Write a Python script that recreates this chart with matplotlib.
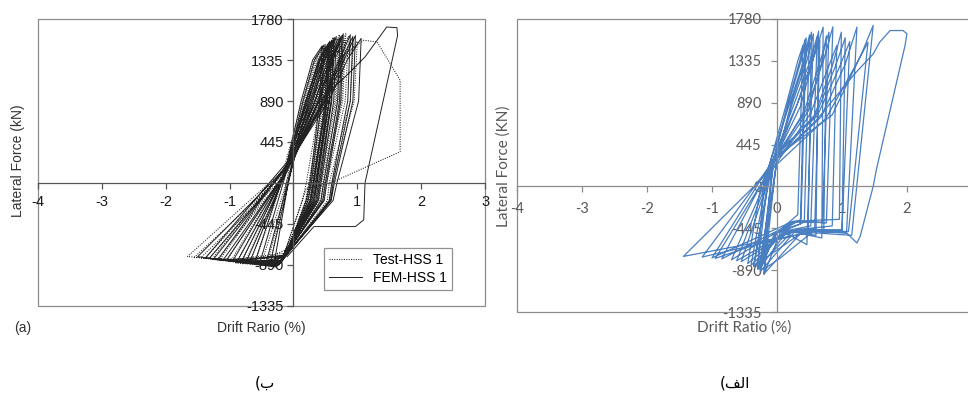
import matplotlib
matplotlib.use("Agg")
import matplotlib.pyplot as plt
from matplotlib.patches import Rectangle

# ---------------- left panel (black) ----------------
# force levels at which the branch x-positions were read
KNEE_F = 890
SH_F = 1335
UNL_HI_F = 890
UNL_F = 0
BEND_F = -190

# Test-HSS 1 (dotted), one entry per cycle
t_conv_x = [-0.18, -0.05, -0.12, 0.02, -0.08, -0.15, 0.00, -0.10, -0.03, -0.20, 0.03, -0.06,
            -0.13, 0.01, -0.07, -0.16, -0.02, 0.04]
t_conv_F = [80, 220, 140, 300, 180, 60, 260, 120, 230, 30, 320, 200,
            110, 280, 190, 70, 240, 330]
t_knee_x = [0.14, 0.22, 0.18, 0.31, 0.26, 0.20, 0.38, 0.30, 0.44, 0.35, 0.52, 0.47,
            0.16, 0.28, 0.24, 0.22, 0.36, 0.42]
t_sh_x = [0.32, 0.40, 0.37, 0.50, 0.47, 0.42, 0.60, 0.55, 0.70, 0.62, 0.80, 0.76,
          0.35, 0.46, 0.44, 0.40, 0.56, 0.65]
t_pos_x = [0.47, 0.55, 0.52, 0.64, 0.60, 0.58, 0.75, 0.70, 0.86, 0.80, 1.00, 0.94,
           0.50, 0.62, 0.57, 0.54, 0.72, 0.82]
t_pos_F = [1470, 1520, 1490, 1560, 1540, 1500, 1600, 1570, 1590, 1550, 1540, 1560,
           1500, 1580, 1530, 1480, 1610, 1620]
t_unl_hi_x = [0.42, 0.50, 0.47, 0.59, 0.55, 0.53, 0.70, 0.65, 0.81, 0.75, 0.95, 0.89,
              0.45, 0.57, 0.52, 0.49, 0.67, 0.77]
t_unl_x = [0.20, 0.30, 0.25, 0.36, 0.32, 0.28, 0.44, 0.40, 0.52, 0.47, 0.60, 0.56,
           0.24, 0.35, 0.30, 0.27, 0.42, 0.49]
t_bend_x = [0.14, 0.25, 0.20, 0.32, 0.28, 0.22, 0.40, 0.36, 0.48, 0.43, 0.56, 0.53,
            0.19, 0.31, 0.26, 0.22, 0.38, 0.45]
t_bot_x = [-0.15, -0.22, -0.10, -0.25, -0.18, -0.12, -0.28, -0.20, -0.24, -0.16, -0.26, -0.21,
           -0.12, -0.24, -0.18, -0.14, -0.22, -0.27]
t_bot_F = [-780, -860, -720, -900, -840, -760, -910, -850, -880, -800, -900, -870,
           -790, -890, -850, -800, -870, -910]
t_neg_x = [-0.35, -0.60, -0.48, -0.90, -0.75, -1.05, -1.20, -1.32, -1.45, -1.15, -1.66, -1.55,
           -0.40, -0.82, -0.68, -0.98, -1.28, -1.38]
t_neg_F = [-840, -860, -830, -870, -850, -840, -835, -820, -810, -830, -798, -805,
           -850, -865, -855, -845, -830, -815]
# last large test cycle
t_last_x = [0.00, 0.45, 0.80, 1.10, 1.31, 1.67, 1.67, 0.58, 0.20, -0.20]
t_last_F = [250, 890, 1400, 1549, 1531, 1115, 339, 0, -60, -880]

# FEM-HSS 1 (solid)
f_conv_x = [-0.14, -0.02, -0.09, 0.04, -0.06, -0.16, 0.01, -0.11, -0.04, 0.05, -0.08,
            -0.12, 0.02, -0.05, -0.18, 0.00, 0.06]
f_conv_F = [100, 250, 170, 330, 210, 50, 280, 130, 240, 350, 190,
            120, 300, 220, 40, 270, 360]
f_knee_x = [0.12, 0.24, 0.20, 0.34, 0.28, 0.22, 0.40, 0.33, 0.46, 0.55, 0.50,
            0.15, 0.30, 0.26, 0.19, 0.38, 0.48]
f_sh_x = [0.30, 0.42, 0.39, 0.53, 0.49, 0.45, 0.62, 0.58, 0.72, 0.84, 0.79,
          0.33, 0.49, 0.46, 0.41, 0.60, 0.75]
f_pos_x = [0.45, 0.57, 0.54, 0.67, 0.63, 0.60, 0.78, 0.73, 0.89, 1.06, 0.97,
           0.48, 0.64, 0.60, 0.56, 0.76, 0.93]
f_pos_F = [1490, 1540, 1510, 1590, 1560, 1520, 1620, 1580, 1610, 1570, 1600,
           1500, 1580, 1550, 1500, 1600, 1590]
f_unl_hi_x = [0.41, 0.53, 0.50, 0.63, 0.59, 0.56, 0.74, 0.69, 0.85, 1.02, 0.93,
              0.44, 0.60, 0.56, 0.52, 0.72, 0.89]
f_unl_x = [0.26, 0.36, 0.31, 0.43, 0.39, 0.34, 0.52, 0.47, 0.60, 0.68, 0.64,
           0.28, 0.41, 0.37, 0.32, 0.50, 0.62]
f_bend_x = [0.20, 0.31, 0.26, 0.39, 0.35, 0.29, 0.48, 0.43, 0.56, 0.62, 0.59,
            0.23, 0.37, 0.33, 0.27, 0.46, 0.58]
f_bot_x = [-0.10, -0.18, -0.14, -0.22, -0.20, -0.12, -0.26, -0.19, -0.23, -0.28, -0.21,
           -0.11, -0.21, -0.17, -0.13, -0.24, -0.26]
f_bot_F = [-760, -840, -800, -880, -850, -780, -900, -860, -890, -910, -870,
           -780, -870, -840, -790, -890, -900]
f_neg_x = [-0.30, -0.52, -0.42, -0.82, -0.68, -0.95, -1.10, -1.25, -1.38, -1.50, -1.05,
           -0.36, -0.74, -0.60, -0.88, -1.18, -1.32]
f_neg_F = [-860, -850, -840, -860, -850, -845, -835, -825, -815, -800, -840,
           -855, -855, -850, -850, -830, -820]
# last large FEM cycle
f_last_x = [0.00, 0.40, 0.85, 1.12, 1.31, 1.46, 1.62, 1.63, 1.12, 1.10, 0.97, 0.32, -0.10]
f_last_F = [250, 890, 1180, 1368, 1549, 1693, 1686, 1600, 0, -400, -473, -473, -800]

# ---------------- right panel (blue) ----------------
b_conv_x = [-0.15, -0.05, -0.20, 0.00, -0.10, -0.25, -0.02, -0.12, 0.02, -0.30, -0.05, 0.03, -0.08, 0.00, -0.18,
            -0.08, 0.01, -0.14, -0.03, 0.02]
b_conv_F = [150, 280, 60, 330, 200, 0, 300, 180, 360, -50, 260, 380, 240, 320, 120,
            220, 320, 140, 280, 350]
b_knee_x = [0.15, 0.18, 0.20, 0.24, 0.27, 0.32, 0.30, 0.42, 0.46, 0.52, 0.58, 0.62, 0.68, 0.85, 0.75,
            0.17, 0.22, 0.36, 0.48, 0.60]
b_knee_F = [890, 890, 890, 890, 890, 890, 850, 800, 820, 780, 760, 750, 740, 760, 720,
            890, 890, 850, 800, 760]
b_sh_x = [0.32, 0.37, 0.41, 0.46, 0.51, 0.58, 0.52, 0.65, 0.72, 0.78, 0.86, 0.95, 1.05, 1.30, 1.22,
          0.35, 0.43, 0.55, 0.68, 0.90]
b_sh_F = [1335, 1335, 1335, 1335, 1335, 1400, 1300, 1300, 1350, 1250, 1300, 1250, 1300, 1408, 1300,
          1335, 1335, 1335, 1300, 1280]
b_pos_x = [0.40, 0.45, 0.50, 0.56, 0.62, 0.71, 0.66, 0.80, 0.86, 0.92, 0.99, 1.12, 1.23, 1.48, 1.40,
           0.43, 0.53, 0.64, 0.76, 1.05]
b_pos_F = [1500, 1580, 1610, 1622, 1600, 1693, 1560, 1640, 1696, 1497, 1640, 1540, 1693, 1711, 1533,
           1560, 1640, 1650, 1600, 1580]
b_drop_x = [0.32, 0.37, 0.42, 0.46, 0.52, 0.69, 0.58, 0.70, 0.76, 0.85, 0.96, 1.00, 1.07, 1.15, 1.10,
            0.36, 0.48, 0.60, 0.72, 1.00]
b_drop_F = [-300, -350, -380, -619, -420, -548, -450, -380, -388, -420, -350, -470, -494, -520, -480,
            -400, -450, -520, -470, -460]
b_flat_x = [-0.05, 0.00, 0.05, 0.10, 0.15, 0.20, 0.25, 0.25, 0.30, 0.30, 0.25, 0.40, 0.56, 0.50, 0.45,
            0.00, 0.10, 0.20, 0.15, 0.35]
b_flat_F = [-520, -500, -490, -480, -470, -477, -470, -380, -370, -460, -370, -470, -477, -490, -460,
            -480, -500, -470, -480, -460]
b_neg_x = [-0.26, -0.30, -0.20, -0.36, -0.45, -0.55, -0.30, -0.70, -0.85, -0.25, -1.00, -0.20, -1.15, -1.44, -0.36,
           -0.22, -0.40, -0.62, -0.28, -0.95]
b_neg_F = [-903, -880, -935, -850, -820, -800, -860, -780, -770, -900, -760, -930, -750, -744, -850,
           -820, -840, -790, -880, -765]
# last large cycle
b_last_x = [0.00, 0.60, 1.20, 1.48, 1.58, 1.74, 1.94, 2.00, 1.97, 1.53, 1.48, 1.28, 1.23, 1.07, 0.56, 0.05, -0.20]
b_last_F = [300, 700, 1200, 1408, 1533, 1657, 1657, 1622, 1497, 181, 0, -530, -601, -494, -477, -761, -880]

x_ticks = [-4, -3, -2, -1, 0, 1, 2, 3]
y_ticks = [-1335, -890, -445, 0, 445, 890, 1335, 1780]


def at(v, i):
    return v[i] if isinstance(v, list) else v


def loops(keys, last_x, last_F):
    # chain the key points of every cycle into one continuous path
    xs, ys = [], []
    n = len(keys[0][0])
    for i in range(n):
        for kx, kf in keys:
            xs.append(at(kx, i))
            ys.append(at(kf, i))
    return xs + last_x, ys + last_F


def style_axes(ax, color, lab_color, font, pad_x, pad_y, hide_zero, hide_last_x):
    ax.set_xlim(-4, 3)
    ax.set_ylim(-1335, 1780)
    for s in ["top", "right"]:
        ax.spines[s].set_visible(False)
    ax.spines["bottom"].set_position(("data", 0))
    ax.spines["left"].set_position(("data", 0))
    for s in ["bottom", "left"]:
        ax.spines[s].set_color(color)
        ax.spines[s].set_linewidth(0.9)
    ax.add_patch(Rectangle((0, 0), 1, 1, transform=ax.transAxes, fill=False,
                           edgecolor="#8c8c8c", linewidth=0.9, clip_on=False))
    ax.set_xticks(x_ticks)
    ax.set_yticks(y_ticks)
    xl = [str(v) for v in x_ticks]
    yl = [str(v) for v in y_ticks]
    if hide_zero:
        xl[x_ticks.index(0)] = ""
        yl[y_ticks.index(0)] = ""
    if hide_last_x:
        xl[-1] = ""
    ax.set_xticklabels(xl, family=font, fontsize=10.5, color=lab_color)
    ax.set_yticklabels(yl, family=font, fontsize=10.5, color=lab_color)
    ax.tick_params(axis="x", direction="out", length=4, width=0.9, color=color, pad=pad_x)
    ax.tick_params(axis="y", direction="out", length=4, width=0.9, color=color, pad=pad_y)


fig = plt.figure(figsize=(9.68, 3.96), dpi=100)

# left panel
ax1 = fig.add_axes([0.0393, 0.2273, 0.4618, 0.7247])
style_axes(ax1, "#555555", "#1a1a1a", "Liberation Sans", 5, 3, True, False)
tx, ty = loops([(t_conv_x, t_conv_F), (t_knee_x, KNEE_F), (t_sh_x, SH_F), (t_pos_x, t_pos_F),
                (t_unl_hi_x, UNL_HI_F), (t_unl_x, UNL_F), (t_bend_x, BEND_F),
                (t_bot_x, t_bot_F), (t_neg_x, t_neg_F)], t_last_x, t_last_F)
fx, fy = loops([(f_conv_x, f_conv_F), (f_knee_x, KNEE_F), (f_sh_x, SH_F), (f_pos_x, f_pos_F),
                (f_unl_hi_x, UNL_HI_F), (f_unl_x, UNL_F), (f_bend_x, BEND_F),
                (f_bot_x, f_bot_F), (f_neg_x, f_neg_F)], f_last_x, f_last_F)
ax1.plot(tx, ty, color="#222222", lw=0.75, ls=(0, (1, 1.3)), label="Test-HSS 1")
ax1.plot(fx, fy, color="#222222", lw=0.7, ls="-", label="FEM-HSS 1")
leg = ax1.legend(loc="lower right", bbox_to_anchor=(0.942, 0.031), frameon=True, fancybox=False,
                 edgecolor="#777777", handlelength=2.4, borderpad=0.35, labelspacing=0.3,
                 prop={"family": "Liberation Sans", "size": 10})
leg.get_frame().set_linewidth(0.9)

# right panel
ax2 = fig.add_axes([0.5341, 0.2121, 0.4700, 0.7400])
style_axes(ax2, "#8c8c8c", "#595959", "Lato", 7, 7, False, True)
bx, by = loops([(b_conv_x, b_conv_F), (b_knee_x, b_knee_F), (b_sh_x, b_sh_F), (b_pos_x, b_pos_F),
                (b_drop_x, b_drop_F), (b_flat_x, b_flat_F), (b_neg_x, b_neg_F)], b_last_x, b_last_F)
ax2.plot(bx, by, color="#4a7fc1", lw=0.9)

# axis titles and captions
fig.text(0.0186, 0.593, "Lateral Force (kN)", rotation=90, ha="center", va="center",
         family="Liberation Sans", fontsize=10, color="#333333")
fig.text(0.2696, 0.1717, "Drift Rario (%)", ha="center", va="center",
         family="Liberation Sans", fontsize=10, color="#333333")
fig.text(0.0238, 0.1717, "(a)", ha="center", va="center",
         family="Liberation Sans", fontsize=10, color="#333333")
fig.text(0.5207, 0.581, "Lateral Force (KN)", rotation=90, ha="center", va="center",
         family="Lato", fontsize=11, color="#595959")
fig.text(0.7686, 0.1717, "Drift Ratio (%)", ha="center", va="center",
         family="Lato", fontsize=11, color="#595959")
# Persian captions written in visual order with presentation forms
fig.text(0.2738, 0.0328, "(\uFE8F", ha="center", va="center",
         family=["DejaVu Sans"], fontsize=11, color="#000000")
fig.text(0.759, 0.0328, "(\uFED2\uFEDF\uFE8D", ha="center", va="center",
         family=["DejaVu Sans"], fontsize=11, color="#000000")

fig.savefig("out.png", dpi=100)
